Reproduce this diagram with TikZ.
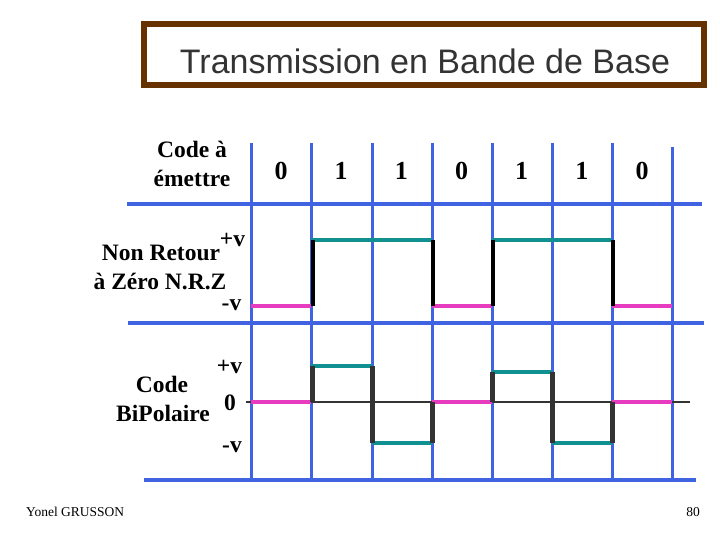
\documentclass[tikz,border=0pt]{standalone}
\usepackage{fontspec}
\setmainfont{Liberation Serif}
\newfontfamily\titlefont{Liberation Sans}
\usepackage{xcolor}
\definecolor{grillebleu}{RGB}{64,100,225}
\definecolor{niveauhaut}{RGB}{16,144,144}
\definecolor{niveaubas}{RGB}{232,60,192}
\definecolor{cadrebrun}{RGB}{102,51,0}
\definecolor{grisfonce}{RGB}{51,51,51}

\begin{document}
\begin{tikzpicture}[x=1pt,y=-1pt,
  grille/.style={draw=grillebleu,line width=3pt},
  bord/.style={draw=grillebleu,line width=4pt},
  haut/.style={draw=niveauhaut,line width=4.5pt},
  bas/.style={draw=niveaubas,line width=4.5pt},
  front/.style={draw=black,line width=4pt},
  frontbp/.style={draw=grisfonce,line width=5pt},
  lbl/.style={inner sep=0pt,anchor=base,font=\bfseries\fontsize{23.5}{28}\selectfont},
  bit/.style={inner sep=0pt,anchor=base,font=\bfseries\fontsize{26}{30}\selectfont}]
  \useasboundingbox (0,0) rectangle (720,540);

  % titre
  \draw[draw=cadrebrun,line width=6pt] (144,24) rectangle (704,85);
  \node[inner sep=0pt,anchor=base,text=grisfonce,font=\titlefont\fontsize{34}{40}\selectfont]
    (titre) at (425,74) {Transmission en Bande de Base};

  % grille
  \foreach \x in {251,311,372,432,492,552,612}
    \draw[grille] (\x,143) -- (\x,480);
  \draw[grille] (672,147) -- (672,480);
  \draw[bord] (127,204) -- (702,204);
  \draw[bord] (128,323) -- (704,323);
  \draw[bord] (144,480) -- (696,480);

  % bits
  \foreach \b [count=\i] in {0,1,1,0,1,1,0}
    \node[bit] (bit\i) at ({281+60.17*(\i-1)},180) {\b};

  % textes
  \node[lbl] (codeA) at (192,158) {Code à};
  \node[lbl] (codeB) at (192,187) {émettre};
  \node[lbl] (nrzA) at (161,260) {Non Retour};
  \node[lbl] (nrzB) at (160,289) {à Zéro N.R.Z};
  \node[lbl] (nrzPlus) at (232.5,247) {+v};
  \node[lbl] (nrzMoins) at (231.5,310) {-v};
  \node[lbl] (bpA) at (162,392) {Code};
  \node[lbl] (bpB) at (163,421) {BiPolaire};
  \node[lbl] (bpPlus) at (229.5,373) {+v};
  \node[lbl] (bpZero) at (230,410) {0};
  \node[lbl] (bpMoins) at (232,452) {-v};

  % NRZ
  \draw[bas] (251,306) -- (311,306);
  \draw[haut] (311,240) -- (432,240);
  \draw[bas] (432,306) -- (492,306);
  \draw[haut] (492,240) -- (612,240);
  \draw[bas] (612,306) -- (672,306);
  \foreach \x in {313,433,493,613}
    \draw[front] (\x,240) -- (\x,306);

  % bipolaire
  \draw[draw=grisfonce,line width=2pt] (246,402) -- (690,402);
  \draw[bas] (251,402) -- (311,402);
  \draw[haut] (311,366) -- (372,366);
  \draw[haut] (372,443) -- (432,443);
  \draw[bas] (432,402) -- (492,402);
  \draw[haut] (492,372) -- (552,372);
  \draw[haut] (552,443) -- (612,443);
  \draw[bas] (612,402) -- (672,402);
  \draw[frontbp] (312,402) -- (312,366) (372,366) -- (372,443)
    (432,443) -- (432,402) (492,402) -- (492,372)
    (552,372) -- (552,443) (612,443) -- (612,402);

  % pied de page
  \node[inner sep=0pt,anchor=base west,font=\fontsize{13.5}{16}\selectfont] (auteur) at (26,516) {Yonel GRUSSON};
  \node[inner sep=0pt,anchor=base east,font=\fontsize{13.5}{16}\selectfont] (page) at (700,516) {80};
\end{tikzpicture}
\end{document}
